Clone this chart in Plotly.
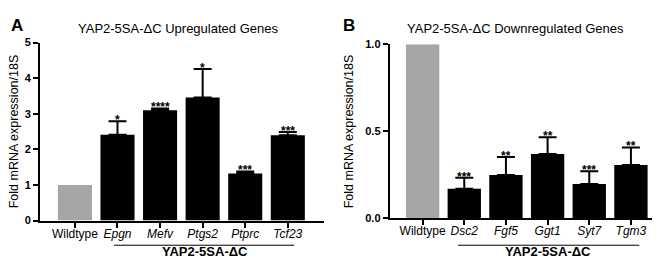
import plotly.graph_objects as go

# ---- data ----
up_categories = ["Wildtype", "Epgn", "Mefv", "Ptgs2", "Ptprc", "Tcf23"]
up_values = [1.0, 2.41, 3.10, 3.46, 1.32, 2.40]
up_err_top = [None, 2.79, 3.15, 4.26, 1.38, 2.49]
up_stars = ["", "*", "****", "*", "***", "***"]

down_categories = ["Wildtype", "Dsc2", "Fgf5", "Ggt1", "Syt7", "Tgm3"]
down_values = [1.0, 0.168, 0.247, 0.369, 0.196, 0.305]
down_err_top = [None, 0.232, 0.351, 0.465, 0.269, 0.406]
down_stars = ["", "***", "**", "**", "***", "**"]

up_yticks = [0, 1, 2, 3, 4, 5]
down_yticks = [0.0, 0.5, 1.0]
down_yticklabels = ["0.0", "0.5", "1.0"]

W, H = 660, 258
FONT = "Liberation Sans, Arial, sans-serif"
GRAY = "#a6a6a6"

fig = go.Figure()


def add_panel(cats, vals, errs, stars, xa, ya):
    # wildtype bar
    fig.add_trace(go.Bar(x=cats[:1], y=vals[:1], marker_color=GRAY,
                         marker_line_width=0, width=0.8,
                         xaxis=xa, yaxis=ya, showlegend=False))
    plus = [e - v for e, v in zip(errs[1:], vals[1:])]
    fig.add_trace(go.Bar(x=cats[1:], y=vals[1:], marker_color="black",
                         marker_line_width=0, width=0.8,
                         error_y=dict(type="data", array=plus,
                                      arrayminus=[0] * len(plus),
                                      symmetric=False, color="black",
                                      thickness=2, width=9),
                         xaxis=xa, yaxis=ya, showlegend=False))
    for c, e, s in zip(cats[1:], errs[1:], stars[1:]):
        fig.add_annotation(x=c, y=e, text="<b>%s</b>" % s, showarrow=False,
                           xref=xa, yref=ya, yanchor="bottom", yshift=-8,
                           font=dict(family=FONT, size=12, color="black"))


add_panel(up_categories, up_values, up_err_top, up_stars, "x", "y")
add_panel(down_categories, down_values, down_err_top, down_stars, "x2", "y2")


def ticktext(cats):
    return [c if c == "Wildtype" else "<i>%s</i>" % c for c in cats]


axis_common = dict(showline=True, linecolor="black", linewidth=2,
                   ticks="outside", tickcolor="black", tickwidth=2,
                   ticklen=5, showgrid=False, zeroline=False)

fig.update_layout(
    width=W, height=H,
    margin=dict(l=0, r=0, t=0, b=0),
    paper_bgcolor="white", plot_bgcolor="white",
    barmode="overlay",
    font=dict(family=FONT, color="black"),
    xaxis=dict(domain=[32 / W, 316 / W], anchor="y", type="category",
               range=[-0.82, 5.85], tickmode="array",
               tickvals=up_categories, ticktext=ticktext(up_categories),
               ticklabelstandoff=-4,
               tickfont=dict(size=12, family=FONT), **axis_common),
    yaxis=dict(domain=[1 - 216.7 / H, 1 - 30 / H], anchor="x",
               range=[0, 5], tickmode="array", tickvals=up_yticks,
               tickfont=dict(size=11, family=FONT, weight="bold"),
               **axis_common),
    xaxis2=dict(domain=[381.7 / W, 655 / W], anchor="y2", type="category",
                range=[-0.79, 5.77], tickmode="array",
                tickvals=down_categories, ticktext=ticktext(down_categories),
                ticklabelstandoff=-4,
                tickfont=dict(size=12, family=FONT), **axis_common),
    yaxis2=dict(domain=[1 - 214 / H, 1 - 31.7 / H], anchor="x2",
                range=[0, 1], tickmode="array", tickvals=down_yticks,
                ticktext=down_yticklabels,
                tickfont=dict(size=11, family=FONT, weight="bold"),
                **axis_common),
)

# titles, panel letters, y-axis titles
def paper_text(x, y, text, size, bold=False, angle=0, xanchor="center"):
    fig.add_annotation(x=x / W, y=1 - y / H, xref="paper", yref="paper",
                       text=("<b>%s</b>" % text) if bold else text,
                       showarrow=False, textangle=angle, xanchor=xanchor,
                       yanchor="middle", borderpad=0,
                       font=dict(family=FONT, size=size, color="black"))


paper_text(170, 15, "YAP2-5SA-ΔC Upregulated Genes", 13)
paper_text(507, 15, "YAP2-5SA-ΔC Downregulated Genes", 13)
paper_text(2, 12, "A", 17, bold=True, xanchor="left")
paper_text(334, 12, "B", 17, bold=True, xanchor="left")
paper_text(6, 123, "Fold mRNA expression/18S", 12.5, angle=-90)
paper_text(341, 123, "Fold mRNA expression/18S", 12.5, angle=-90)

# group brackets
for xa, x0, x1, cx in [("x", 0.92, 5.15, 3.05), ("x2", 0.85, 5.2, 3.0)]:
    fig.add_shape(type="line", xref=xa, yref="paper", x0=x0, x1=x1,
                  y0=1 - 242.5 / H, y1=1 - 242.5 / H,
                  line=dict(color="black", width=1))
    fig.add_annotation(x=cx, y=1 - 249.5 / H, xref=xa, yref="paper",
                       text="<b>YAP2-5SA-ΔC</b>", showarrow=False,
                       yanchor="middle", borderpad=0,
                       font=dict(family=FONT, size=13, color="black"))

fig.write_html("out.html")
